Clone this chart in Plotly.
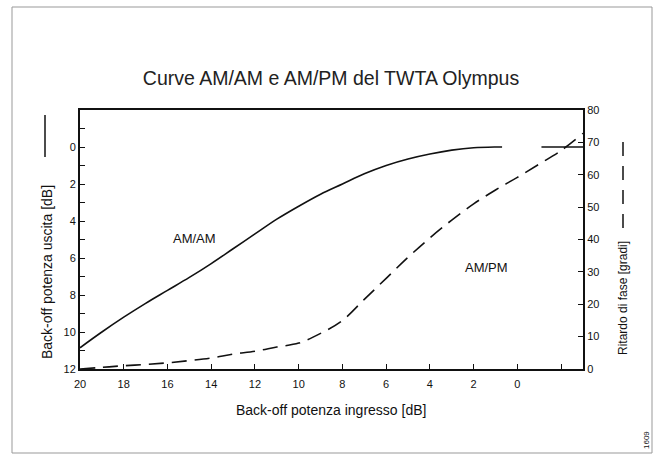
import plotly.graph_objects as go

# Data
am_x = [20, 19, 18, 17, 16, 15, 14, 13, 12, 11, 10, 9, 8, 7, 6, 5, 4, 3, 2, 1, 0.7, None, -1.1, -3]
am_db = [10.85, 10.0, 9.2, 8.45, 7.75, 7.05, 6.3, 5.5, 4.7, 3.9, 3.2, 2.55, 2.0, 1.45, 1.0, 0.65, 0.38, 0.17, 0.04, 0.0, 0.0, None, 0.0, 0.0]

pm_x = [20, 19, 18, 17, 16, 15, 14, 13, 12, 11, 10, 9, 8, 7, 6, 5, 4, 3, 2, 1, 0, -1, -2, -3]
pm_deg = [0.0, 0.5, 1.0, 1.4, 1.9, 2.6, 3.4, 4.6, 5.5, 6.8, 8.0, 11.0, 15.0, 21.5, 28.0, 34.5, 40.5,
          46.0, 51.0, 55.3, 59.2, 63.3, 67.5, 72.8]

x_ticks = [20, 18, 16, 14, 12, 10, 8, 6, 4, 2, 0, -2]
x_labels = ["20", "18", "16", "14", "12", "10", "8", "6", "4", "2", "0", ""]
y_ticks = list(range(-1, 13))
y_labels = [str(v) if v % 2 == 0 and v >= 0 else "" for v in y_ticks]
y2_ticks = [0, 10, 20, 30, 40, 50, 60, 70, 80]

W, H = 659, 459
L, R, T, B = 80, 583, 110, 369
FONT = "Liberation Sans, Arial, sans-serif"
INK = "#111"


def px(xp):
    return (xp - L) / (R - L)


def py(yp):
    return (B - yp) / (B - T)


fig = go.Figure()
fig.add_trace(go.Scatter(x=am_x, y=am_db, mode="lines", line=dict(color=INK, width=1.6, shape="spline"),
                         connectgaps=False, showlegend=False, yaxis="y"))
fig.add_trace(go.Scatter(x=pm_x, y=pm_deg, mode="lines",
                         line=dict(color=INK, width=1.6, dash="15px,8px", shape="spline"),
                         showlegend=False, yaxis="y2"))

TF = dict(size=11, color=INK, family=FONT)
fig.update_layout(
    width=W, height=H,
    margin=dict(l=L, r=W - R, t=T, b=H - B),
    paper_bgcolor="white", plot_bgcolor="white",
    font=dict(family=FONT, color=INK, size=11),
    xaxis=dict(range=[20, -3], tickvals=x_ticks, ticktext=x_labels, ticks="inside", ticklen=5,
               tickcolor=INK, showline=True, linecolor=INK, linewidth=2, mirror=True,
               showgrid=False, zeroline=False, tickfont=TF, ticklabelstandoff=4),
    yaxis=dict(range=[12, -2], tickvals=y_ticks, ticktext=y_labels, ticks="inside", ticklen=5,
               tickcolor=INK, showline=True, linecolor=INK, linewidth=2, mirror=True,
               showgrid=False, zeroline=False, tickfont=TF),
    yaxis2=dict(range=[0, 80], tickvals=y2_ticks, overlaying="y", side="right", ticks="inside",
                ticklen=5, tickcolor=INK, showline=True, linecolor=INK, linewidth=2,
                showgrid=False, zeroline=False, tickfont=TF),
    title=dict(text="Curve AM/AM e AM/PM del TWTA Olympus", x=px(331), xref="paper", xanchor="center",
               y=1 - 78 / H, yref="container", yanchor="middle",
               font=dict(family=FONT, size=19.5, color="#222")),
)

C = dict(showarrow=False, xanchor="center", yanchor="middle")
ann = [
    dict(text="AM/AM", x=14.75, y=4.92, xref="x", yref="y", font=dict(size=13, color=INK), **C),
    dict(text="AM/PM", x=1.42, y=31.5, xref="x", yref="y2", font=dict(size=13, color=INK), **C),
    dict(text="Back-off potenza ingresso [dB]", x=px(331), y=py(410), xref="paper", yref="paper",
         font=dict(size=14, color=INK), **C),
    dict(text="Back-off potenza uscita [dB]", x=px(47), y=py(272), xref="paper", yref="paper",
         textangle=-90, font=dict(size=14, color=INK), **C),
    dict(text="Ritardo di fase [gradi]", x=px(623), y=py(298), xref="paper", yref="paper",
         textangle=-90, font=dict(size=12, color=INK), **C),
    dict(text="1609", x=px(646), y=py(440), xref="paper", yref="paper",
         textangle=-90, font=dict(size=8, color=INK), **C),
]
fig.update_layout(annotations=ann)

shapes = [
    # legend line samples next to axis titles
    dict(type="line", xref="paper", yref="paper", x0=px(45), x1=px(45), y0=py(115), y1=py(157),
         line=dict(color=INK, width=1.5)),
    dict(type="line", xref="paper", yref="paper", x0=px(623), x1=px(623), y0=py(142), y1=py(238),
         line=dict(color=INK, width=1.5, dash="14px,10px")),
    # scanned page frame
    dict(type="rect", xref="paper", yref="paper", x0=px(12), x1=px(652), y0=py(7), y1=py(453),
         line=dict(color="#999", width=1)),
]
fig.update_layout(shapes=shapes)

fig.write_html("out.html")
